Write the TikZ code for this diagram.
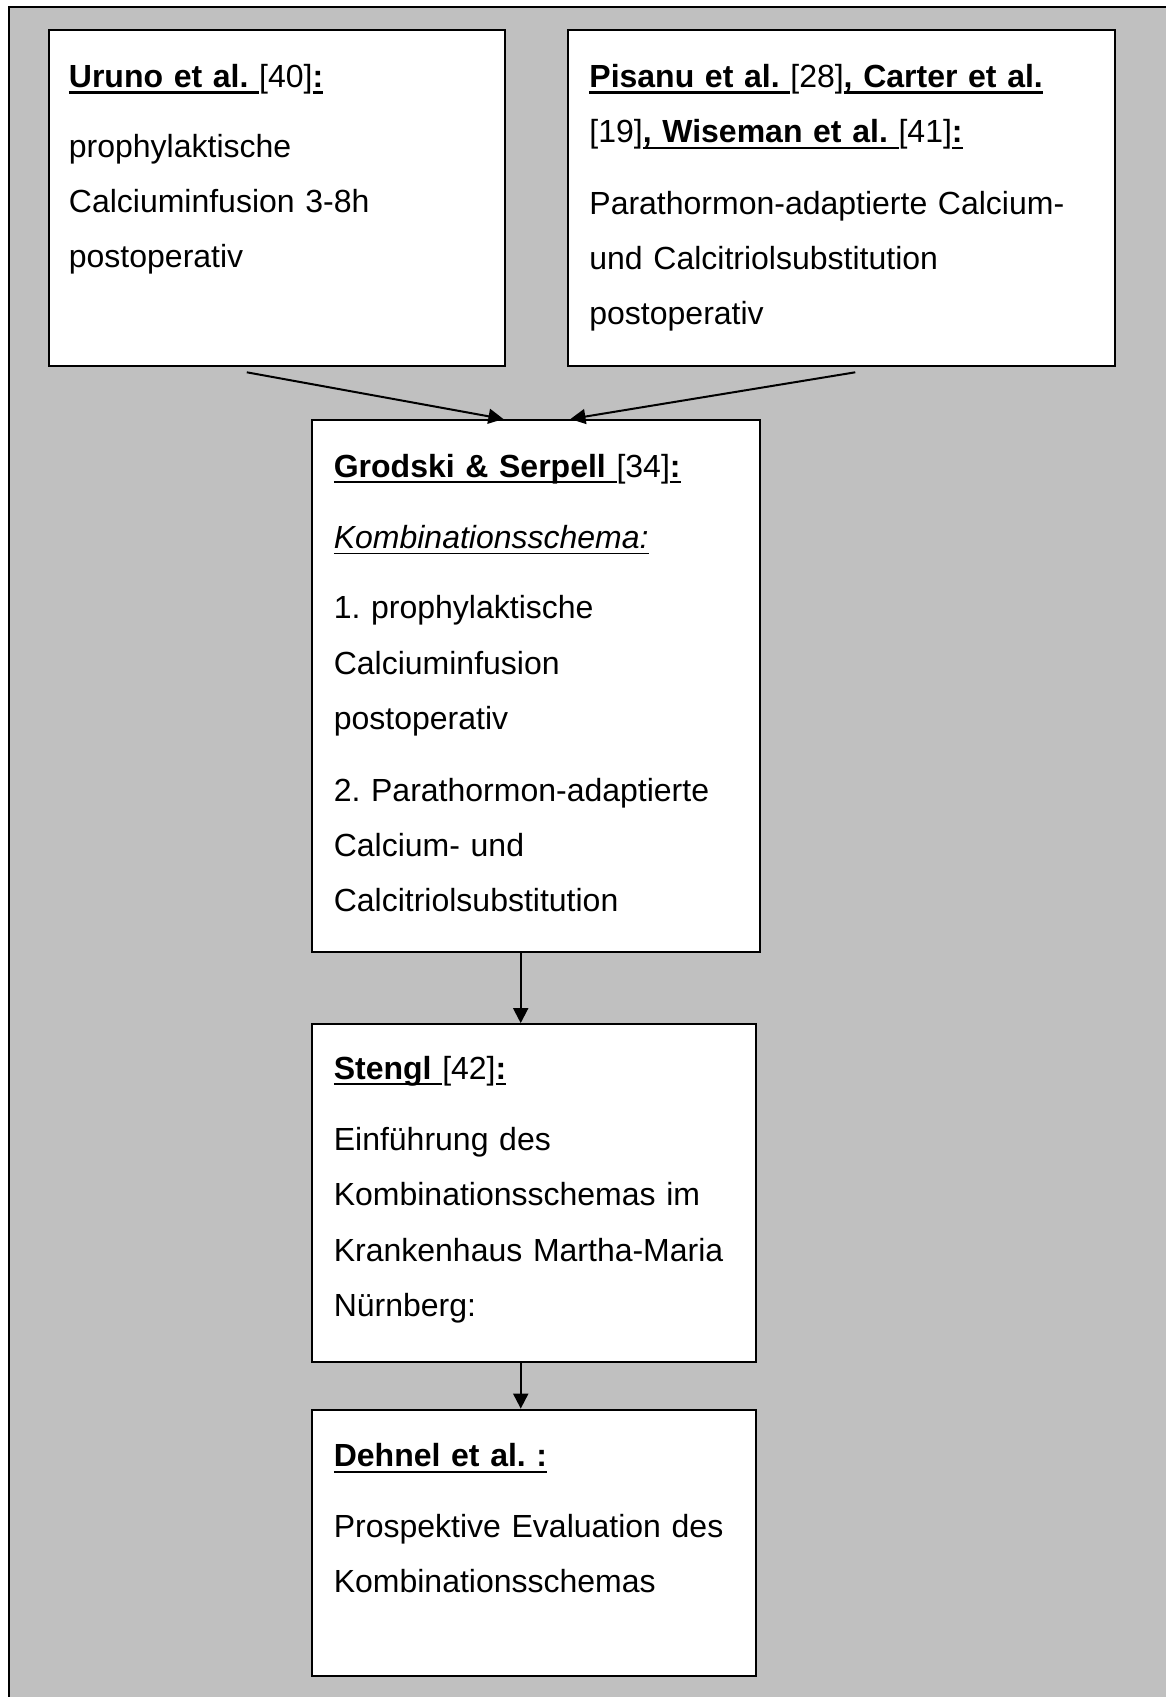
\documentclass[tikz,border=0pt]{standalone}
\usepackage{fontspec}
\setmainfont{Liberation Sans}
\usetikzlibrary{arrows.meta,fit,calc}
\definecolor{bggray}{HTML}{C0C0C0}
\frenchspacing
\newcommand\ulb[1]{\leavevmode\setbox0=\hbox{\bfseries #1}\rlap{\rule[-3.1pt]{\wd0}{1.15pt}}\box0}
\newcommand\uli[1]{\leavevmode\setbox0=\hbox{\itshape #1}\rlap{\rule[-2.8pt]{\wd0}{0.6pt}}\box0}
\tikzset{
  box/.style={draw=black, line width=1pt, fill=white, inner sep=0pt},
  txt/.style={anchor=base west, inner sep=0pt, text width=260pt, align=left,
    font=\fontsize{16pt}{27.7pt}\selectfont\frenchspacing},
  arr/.style={line width=1pt, -{Triangle[length=7.5pt,width=7.5pt]}}
}
\begin{document}
\begin{tikzpicture}[x=0.5pt,y=-0.5pt]
\useasboundingbox (0,0) rectangle (1166,1697);
\clip (0,0) rectangle (1166,1697);
\fill[bggray] (9,6.5) rectangle (1200,1720);
\draw[line width=1pt] (9,1720) -- (9,6.5) -- (1200,6.5);

\node[box, fit={(48.7,30.3) (504.5,365.9)}] (uruno) {};
\node[box, fit={(568.4,30.3) (1115.1,365.9)}] (pisanu) {};
\node[box, fit={(311.8,420) (760,951.6)}] (grodski) {};
\node[box, fit={(311.8,1024.1) (755.7,1362)}] (stengl) {};
\node[box, fit={(311.8,1409.6) (755.7,1675.9)}] (dehnel) {};

\node[txt] (t-uruno) at (68.5,87.3) {\ulb{Uruno et al. }[40]\ulb{:}\\[7.2pt]
  prophylaktische\\ Calciuminfusion 3-8h\\ postoperativ};
\node[txt] (t-pisanu) at (589,87.3) {\ulb{Pisanu et al. }[28]\ulb{, Carter et al.}\\ {}[19]\ulb{, Wiseman et al. }[41]\ulb{:}\\[8pt]
  Parathormon-adaptierte Calcium-\\ und Calcitriolsubstitution\\ postoperativ};
\node[txt] (t-grodski) at (333.4,477) {\ulb{Grodski \& Serpell }[34]\ulb{:}\\[8pt]
  \uli{Kombinationsschema:}\\[7.5pt]
  1. prophylaktische\\ Calciuminfusion\\ postoperativ\\[8pt]
  2. Parathormon-adaptierte\\ Calcium- und\\ Calcitriolsubstitution};
\node[txt] (t-stengl) at (333.4,1079) {\ulb{Stengl }[42]\ulb{:}\\[8pt]
  Einführung des\\ Kombinationsschemas im\\ Krankenhaus Martha-Maria\\ Nürnberg:};
\node[txt] (t-dehnel) at (333.4,1466.6) {\ulb{Dehnel et al. :}\\[7.5pt]
  Prospektive Evaluation des\\ Kombinationsschemas};

\coordinate (s1) at ($(uruno.south)+(-29.8,5.4)$);
\coordinate (s2) at ($(pisanu.south)+(13.5,5.4)$);
\coordinate (e1) at ($(grodski.north)+(-32.5,0)$);
\coordinate (e2) at ($(grodski.north)+(34.6,0)$);
\draw[arr] (s1) -- (e1);
\draw[arr] (s2) -- (e2);
\coordinate (d1) at ($(grodski.south)+(-15.2,0)$);
\draw[arr] (d1) -- (d1 |- stengl.north);
\coordinate (d2) at ($(stengl.south)+(-13,0)$);
\draw[arr] (d2) -- (d2 |- dehnel.north);
\end{tikzpicture}
\end{document}
